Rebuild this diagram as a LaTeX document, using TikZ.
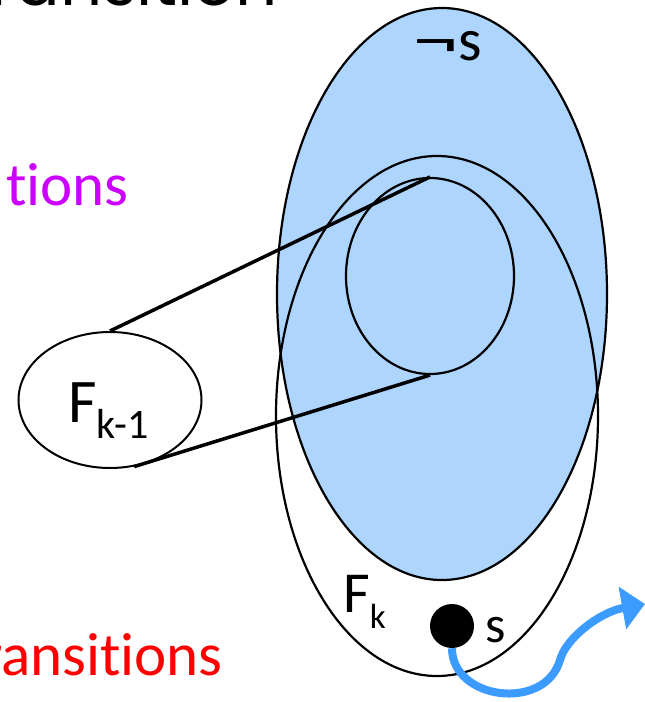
\documentclass[tikz,border=0pt]{standalone}
\usepackage{fontspec}
\usepackage{graphicx}
\setmainfont{Carlito}[Ligatures=NoCommon]
\newfontfamily\titlefont{Poppins}
\usetikzlibrary{shapes.geometric, arrows.meta}
\definecolor{setBlue}{HTML}{ADD5FE}
\definecolor{arrowBlue}{HTML}{3C9BFF}
\definecolor{textMagenta}{HTML}{CC00FF}
\newcommand{\fsz}[1]{\fontsize{#1}{#1}\selectfont}
\newcommand{\lowsub}[2]{\raisebox{-16pt}{\fsz{#1}#2}}

\begin{document}
\begin{tikzpicture}[x=1pt, y=-1pt,
    region/.style={draw, ellipse, inner sep=0pt, line width=2.2pt},
    link/.style={line width=3.5pt},
    trarrow/.style={-{Triangle[length=23pt, width=42pt]}, line width=8pt, arrowBlue},
]
    \useasboundingbox (0,0) rectangle (645,702);
    \clip (0,0) rectangle (645,702);

    % Cut-off captions
    \node[font=\titlefont\fsz{66}, anchor=base east, inner sep=0pt] (toptext) at (278,5) {Transition};
    \node[font=\fsz{61}, text=textMagenta, anchor=base east, inner sep=0pt] (midtext) at (129,205) {tions};
    \node[font=\fsz{61}, text=red, anchor=base east, inner sep=0pt] (bottext) at (223,675) {ransitions};

    % Sets
    \node[region, fill=setBlue, minimum width=330pt, minimum height=572pt] (nots) at (442,294) {};
    \node[region, minimum width=322pt, minimum height=520pt] (fk) at (437,416) {};
    \node[region, minimum width=168pt, minimum height=196pt] (inner) at (430,276) {};
    \node[region, line width=2pt, minimum width=183pt, minimum height=136pt] (fkm) at (110,400) {};

    % Projection of F_{k-1}
    \draw[link] (fkm.north) -- (inner.north);
    \draw[link] (fkm.-70) -- (inner.south);

    % State and its transition
    \node[circle, fill=black, inner sep=0pt, minimum size=44pt] (state) at (452,626) {};
    \coordinate (out) at (645,604);
    \draw[trarrow] (state.south) .. controls (452,700) and (545,712) .. (560,660)
        .. controls (566,638) and (600,612) .. (out);

    % Labels
    \node[font=\fsz{60}, anchor=base west, inner sep=0pt] (notslabel) at (413,60) {\scalebox{1.5}[1]{¬}s};
    \node[font=\fsz{58}, anchor=base west, inner sep=0pt] (fklabel) at (343,612) {F\lowsub{35}{k}};
    \node[font=\fsz{62}, anchor=base west, inner sep=0pt] (fkmlabel) at (68,422) {F\lowsub{42}{k-1}};
    \node[font=\fsz{52}, anchor=base west, inner sep=0pt] (slabel) at (485,642) {s};
\end{tikzpicture}
\end{document}
